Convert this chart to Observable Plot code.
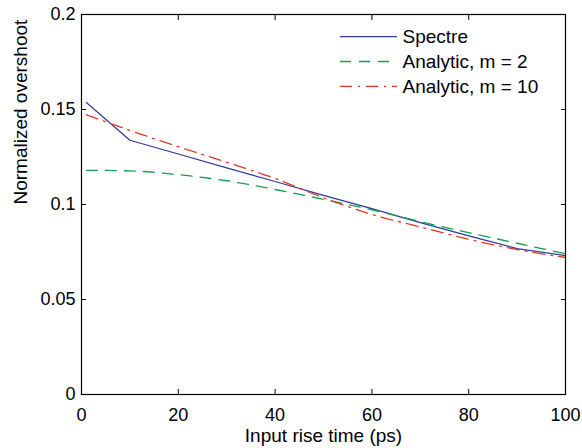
<!DOCTYPE html>
<html>
<head>
<meta charset="utf-8">
<script src="https://cdn.jsdelivr.net/npm/d3@7"></script>
<script src="https://cdn.jsdelivr.net/npm/@observablehq/plot@0.6"></script>
<style>
  html, body { margin: 0; padding: 0; background: #fff; }
  #chart svg { display: block; }
</style>
</head>
<body>
<div id="chart"></div>
<script>
// ---- data ----
const riseTime = [1, 10, 20, 30, 40, 50, 60, 70, 80, 90, 100];
const spectre  = [0.1537, 0.1338, 0.1266, 0.1193, 0.1121, 0.1048, 0.0978, 0.0905, 0.0835, 0.0768, 0.0731];
const analyticM2  = [0.1180, 0.1177, 0.1157, 0.1125, 0.1079, 0.1027, 0.0972, 0.0910, 0.0852, 0.0796, 0.0741];
const analyticM10 = [0.1472, 0.1390, 0.1304, 0.1222, 0.1137, 0.1035, 0.0948, 0.0882, 0.0817, 0.0763, 0.0721];
const xTicks = [0, 20, 40, 60, 80, 100];
const yTicks = [0, 0.05, 0.1, 0.15, 0.2];
const seriesNames = ["Spectre", "Analytic, m = 2", "Analytic, m = 10"];

const colors = {Spectre: "#2e3b9c", "Analytic, m = 2": "#10a050", "Analytic, m = 10": "#e8352c"};
const dashes = {Spectre: null, "Analytic, m = 2": "11,8", "Analytic, m = 10": "12,6,2,6"};

const rows = s => riseTime.map((x, i) => ({x, y: s[i]}));
const spectreData = rows(spectre);
const m2Data = rows(analyticM2);
const m10Data = rows(analyticM10);

const font = "'Liberation Sans', Arial, Helvetica, sans-serif";

const chart = Plot.plot({
  width: 582,
  height: 448,
  marginLeft: 81,
  marginRight: 17,
  marginTop: 14,
  marginBottom: 54,
  style: {fontFamily: font, fontSize: "18px", color: "black", background: "white"},
  x: {domain: [0, 100]},
  y: {domain: [0, 0.2]},
  marks: [
    Plot.line(spectreData, {x: "x", y: "y", stroke: colors["Spectre"], strokeWidth: 1.2}),
    Plot.line(m2Data, {x: "x", y: "y", stroke: colors["Analytic, m = 2"], strokeWidth: 1.3, strokeDasharray: dashes["Analytic, m = 2"], curve: "monotone-x"}),
    Plot.line(m10Data, {x: "x", y: "y", stroke: colors["Analytic, m = 10"], strokeWidth: 1.3, strokeDasharray: dashes["Analytic, m = 10"], curve: "monotone-x"}),
    Plot.frame({stroke: "black", strokeWidth: 1.2}),
    Plot.axisX({anchor: "bottom", ticks: xTicks, tickSize: -5, tickPadding: 19, tickFormat: d => String(d), label: null, strokeWidth: 1}),
    Plot.axisX({anchor: "top", ticks: xTicks, tickSize: -5, tickFormat: () => "", label: null}),
    Plot.axisY({anchor: "left", ticks: yTicks, tickSize: -5, tickPadding: 11, tickFormat: d => String(d), label: null}),
    Plot.axisY({anchor: "right", ticks: yTicks, tickSize: -5, tickFormat: () => "", label: null}),
    Plot.text(["Input rise time (ps)"], {frameAnchor: "bottom", dy: 47, fontSize: 19, fill: "black"}),
    Plot.text(["Normalized overshoot"], {frameAnchor: "left", dx: -61, rotate: -90, fontSize: 19, fill: "black"})
  ]
});

// legend (inside the plot, top right)
const svg = d3.select(chart);
const lg = svg.append("g").attr("font-family", font).attr("font-size", 19).attr("text-anchor", "start");
const legendY = [36.7, 61.5, 86.3];
seriesNames.forEach((name, i) => {
  lg.append("line")
    .attr("x1", 340).attr("x2", 397)
    .attr("y1", legendY[i]).attr("y2", legendY[i])
    .attr("stroke", colors[name]).attr("stroke-width", 1.3)
    .attr("stroke-dasharray", dashes[name]);
  lg.append("text")
    .attr("x", 402.5).attr("y", legendY[i]).attr("dy", "0.35em")
    .attr("text-anchor", "start")
    .attr("fill", "black").text(name);
});

document.getElementById("chart").appendChild(chart);
</script>
</body>
</html>
